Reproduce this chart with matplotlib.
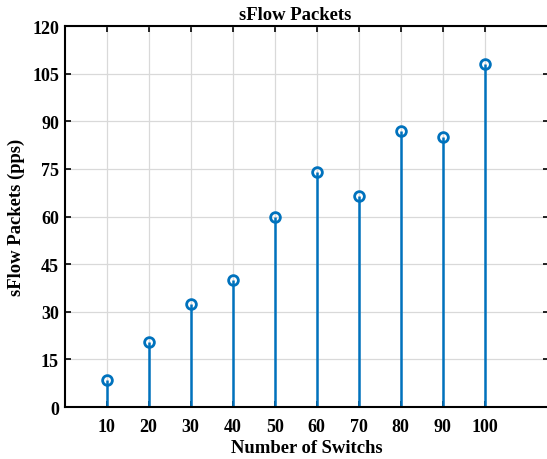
import matplotlib.pyplot as plt

# data
switches = [10, 20, 30, 40, 50, 60, 70, 80, 90, 100]
packets = [8.5, 20.5, 32.5, 40, 60, 74, 66.5, 87, 85, 108]

plt.rcParams['font.family'] = ['Liberation Serif', 'DejaVu Serif']
plt.rcParams['font.weight'] = 'bold'

fig = plt.figure(figsize=(5.47, 4.60), dpi=100)
# axes run slightly past the right edge, like the cropped original
ax = fig.add_axes([0.118, 0.113, 0.886, 0.828])

c = '#0072BD'
ml, sl, bl = ax.stem(switches, packets, basefmt=' ')
plt.setp(sl, color=c, linewidth=1.8)
plt.setp(ml, color=c, marker='o', markersize=7, markerfacecolor='none', markeredgewidth=2)

ax.set_xlim(0, 115.3)
ax.set_ylim(0, 120)
ax.set_xticks(switches)
ax.set_yticks(range(0, 121, 15))
ax.tick_params(direction='in', length=4, width=1.2, top=True, right=True, labelsize=13)
ax.tick_params(axis='x', pad=8)
ax.tick_params(axis='y', pad=4)
for lab in ax.get_xticklabels() + ax.get_yticklabels():
    lab.set_fontweight('bold')
ax.grid(True, color='#d9d9d9', linewidth=0.9)
ax.set_axisbelow(True)
for s in ax.spines.values():
    s.set_linewidth(1.5)
ax.spines['right'].set_visible(False)

ax.set_title('sFlow Packets', fontsize=13.4, fontweight='bold', pad=5, x=0.476)
ax.set_xlabel('Number of Switchs', fontsize=13.4, fontweight='bold', labelpad=3)
ax.set_ylabel('sFlow Packets (pps)', fontsize=13.4, fontweight='bold', labelpad=5)

fig.savefig('out.png', dpi=100)
